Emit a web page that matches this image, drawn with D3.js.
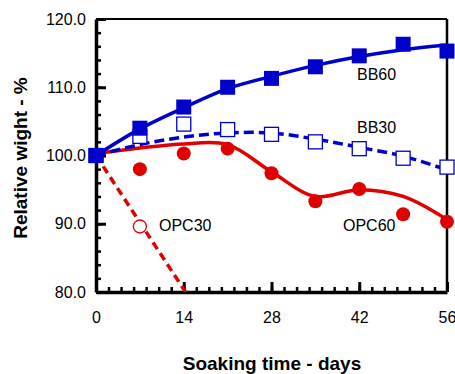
<!DOCTYPE html>
<html>
<head>
<meta charset="utf-8">
<script src="https://cdn.jsdelivr.net/npm/d3@7"></script>
<style>
  html, body { margin: 0; padding: 0; background: #fff; }
  svg { display: block; }
  text { font-family: "Liberation Sans", Arial, sans-serif; }
</style>
</head>
<body>
<svg id="chart" width="455" height="374"></svg>
<script>
// ---- data ----
const days = [0, 7, 14, 21, 28, 35, 42, 49, 56];
const bb60 = [100.0, 104.0, 107.1, 110.0, 111.3, 113.0, 114.6, 116.3, 115.3];
const bb30 = [100.0, 102.8, 104.6, 103.8, 103.1, 102.0, 101.0, 99.6, 98.3];
const opc60 = [100.0, 98.0, 100.3, 101.0, 97.4, 93.3, 95.1, 91.4, 90.3];
const opc30Days = [0, 7];
const opc30 = [100.0, 89.6];

// fitted trend curves
const bb60Trend = [100.0, 103.9, 107.0, 109.8, 111.6, 113.2, 114.5, 115.5, 116.2];
const bb30Trend = [100.0, 101.6, 102.7, 103.3, 103.3, 102.4, 101.2, 99.9, 97.9];
const opc60Trend = [100.3, 101.1, 101.7, 101.6, 97.6, 94.0, 95.0, 94.0, 90.6];
const opc30TrendDays = [0, 15];
const opc30Trend = [100.0, 79.0];

const yMajorTicks = [80, 90, 100, 110, 120];
const xMajorTicks = [0, 14, 28, 42, 56];

const seriesLabels = ["BB60", "BB30", "OPC60", "OPC30"];

// ---- layout ----
const BLUE = "#0000cc", RED = "#e00000";
const svg = d3.select("#chart");
const m = { left: 96, right: 447, top: 19, bottom: 292 };
const x = d3.scaleLinear().domain([0, 56]).range([m.left, m.right]);
const y = d3.scaleLinear().domain([80, 120]).range([m.bottom, m.top]);

svg.append("defs").append("clipPath").attr("id", "plotclip")
  .append("rect").attr("x", m.left).attr("y", m.top)
  .attr("width", m.right - m.left).attr("height", m.bottom - m.top);

// frame top/right
svg.append("line").attr("x1", m.left).attr("x2", m.right).attr("y1", m.top).attr("y2", m.top)
  .attr("stroke", "#000").attr("stroke-width", 2);
svg.append("line").attr("x1", m.right).attr("x2", m.right).attr("y1", m.top).attr("y2", m.bottom)
  .attr("stroke", "#000").attr("stroke-width", 2.5);

// minor ticks
const yMinor = d3.range(80, 120.01, 2);
const xMinor = d3.range(0, 56.01, 2);
svg.append("g").attr("transform", `translate(${m.left},0)`)
  .call(d3.axisLeft(y).tickValues(yMinor).tickSize(-5).tickSizeOuter(0).tickFormat(""))
  .call(g => g.select(".domain").remove())
  .call(g => g.selectAll("line").attr("stroke-width", 2.5));
svg.append("g").attr("transform", `translate(0,${m.bottom})`)
  .call(d3.axisBottom(x).tickValues(xMinor).tickSize(-5).tickSizeOuter(0).tickFormat(""))
  .call(g => g.select(".domain").remove())
  .call(g => g.selectAll("line").attr("stroke-width", 2.5));

// major axes
svg.append("g").attr("transform", `translate(${m.left},0)`)
  .call(d3.axisLeft(y).tickValues(yMajorTicks).tickSize(-10).tickSizeOuter(0).tickPadding(10)
    .tickFormat(d3.format(".1f")))
  .call(g => g.select(".domain").attr("stroke-width", 3.5))
  .call(g => g.selectAll("line").attr("stroke-width", 3))
  .call(g => g.selectAll("text").attr("font-size", 16).attr("fill", "#000")
    .attr("font-family", "Liberation Sans, Arial, sans-serif"));
svg.append("g").attr("transform", `translate(0,${m.bottom})`)
  .call(d3.axisBottom(x).tickValues(xMajorTicks).tickSize(-10).tickSizeOuter(0).tickPadding(20))
  .call(g => g.select(".domain").attr("stroke-width", 3.5))
  .call(g => g.selectAll("line").attr("stroke-width", 3))
  .call(g => g.selectAll("text").attr("font-size", 16).attr("fill", "#000")
    .attr("font-family", "Liberation Sans, Arial, sans-serif"));

// axis titles
svg.append("text").attr("x", 272).attr("y", 369.5).attr("text-anchor", "middle")
  .attr("font-size", 19).attr("font-weight", "bold").text("Soaking time - days");
svg.append("text").attr("transform", "translate(27,158) rotate(-90)").attr("text-anchor", "middle")
  .attr("font-size", 19).attr("font-weight", "bold").text("Relative wight - %");

// trend lines
const plot = svg.append("g").attr("clip-path", "url(#plotclip)");
const line = d3.line().x(d => x(d[0])).y(d => y(d[1])).curve(d3.curveCatmullRom.alpha(0.5));
const zipv = (xs, ys) => xs.map((d, i) => [d, ys[i]]);

plot.append("path").attr("d", line(zipv(opc30TrendDays, opc30Trend)))
  .attr("fill", "none").attr("stroke", RED).attr("stroke-width", 3.5).attr("stroke-dasharray", "8,5");
plot.append("path").attr("d", line(zipv(days, opc60Trend)))
  .attr("fill", "none").attr("stroke", RED).attr("stroke-width", 3.5);
plot.append("path").attr("d", line(zipv(days, bb30Trend)))
  .attr("fill", "none").attr("stroke", BLUE).attr("stroke-width", 3.5).attr("stroke-dasharray", "10,5");
plot.append("path").attr("d", line(zipv(days, bb60Trend)))
  .attr("fill", "none").attr("stroke", BLUE).attr("stroke-width", 3.5);

// markers
const mk = svg.append("g");
mk.selectAll(".o30").data(zipv(opc30Days, opc30)).join("circle")
  .attr("cx", d => x(d[0])).attr("cy", d => y(d[1])).attr("r", 6.5)
  .attr("fill", "#fff").attr("stroke", RED).attr("stroke-width", 1.3);
mk.selectAll(".o60").data(zipv(days, opc60)).join("circle")
  .attr("cx", d => x(d[0])).attr("cy", d => y(d[1])).attr("r", 7)
  .attr("fill", RED);
mk.selectAll(".b30").data(zipv(days, bb30)).join("rect")
  .attr("x", d => x(d[0]) - 7).attr("y", d => y(d[1]) - 7).attr("width", 14).attr("height", 14)
  .attr("fill", "#fff").attr("stroke", BLUE).attr("stroke-width", 1.3);
mk.selectAll(".b60").data(zipv(days, bb60)).join("rect")
  .attr("x", d => x(d[0]) - 7.5).attr("y", d => y(d[1]) - 7.5).attr("width", 15).attr("height", 15)
  .attr("fill", BLUE);

// series labels
const labelPos = [[357, 80], [357, 133], [343, 231], [159, 231]];
seriesLabels.forEach((t, i) => {
  svg.append("text").attr("x", labelPos[i][0]).attr("y", labelPos[i][1])
    .attr("font-size", 16).attr("fill", "#000").text(t);
});
</script>
</body>
</html>
